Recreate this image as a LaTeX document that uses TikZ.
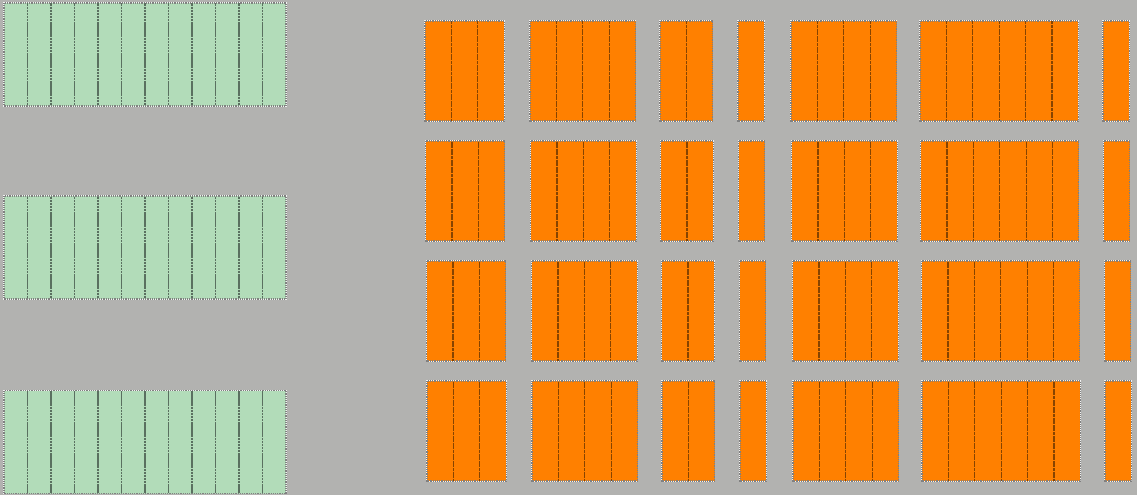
\documentclass[tikz,border=0pt]{standalone}
\usepackage{tikz}
\definecolor{bggray}{RGB}{178,178,176}
\definecolor{bedgreen}{RGB}{178,220,185}
\definecolor{bedorange}{RGB}{255,128,0}
\definecolor{sepgreen}{RGB}{90,112,96}
\definecolor{seporange}{RGB}{135,68,0}

\begin{document}
\begin{tikzpicture}[x=1pt,y=-1pt,
  bed/.style={preaction={draw=white!90!gray, solid, line width=1.1pt},
              draw=gray, dash pattern=on 1.2pt off 1pt, line width=1.1pt},
  greenbed/.style={bed, fill=bedgreen},
  orangebed/.style={bed, fill=bedorange},
  greensep/.style={draw=sepgreen, dash pattern=on 2.5pt off 0.6pt, line width=1.1pt},
  orangesep/.style={draw=seporange, dash pattern=on 3pt off 0.6pt, line width=1.2pt}]
\fill[bggray] (0,0) rectangle (1137,495);
\useasboundingbox (0,0) rectangle (1137,495);

% green rows, 12 columns each
\foreach \y in {3,196,390.5} {
  \draw[greenbed] (4,\y) rectangle (286,\y+103);
  \foreach \i in {1,...,11}
    \draw[greensep] (4+\i*23.5,\y+0.5) -- (4+\i*23.5,\y+102.5);
}

% orange rows: groups of 3,4,2,1,4,6,1 columns
\foreach \y/\dx in {21/0, 141/0.5, 261/1.5, 381/2} {
  \foreach \x/\n in {425/3, 530/4, 660/2, 738/1, 791/4, 920/6, 1103/1} {
    \draw[orangebed] (\x+\dx,\y) rectangle (\x+\dx+\n*26.4,\y+100);
    \ifnum\n>1
      \foreach \i in {2,...,\n}
        \draw[orangesep] (\x+\dx+\i*26.4-26.4,\y+0.5) -- (\x+\dx+\i*26.4-26.4,\y+99.5);
    \fi
  }
}
\end{tikzpicture}
\end{document}
